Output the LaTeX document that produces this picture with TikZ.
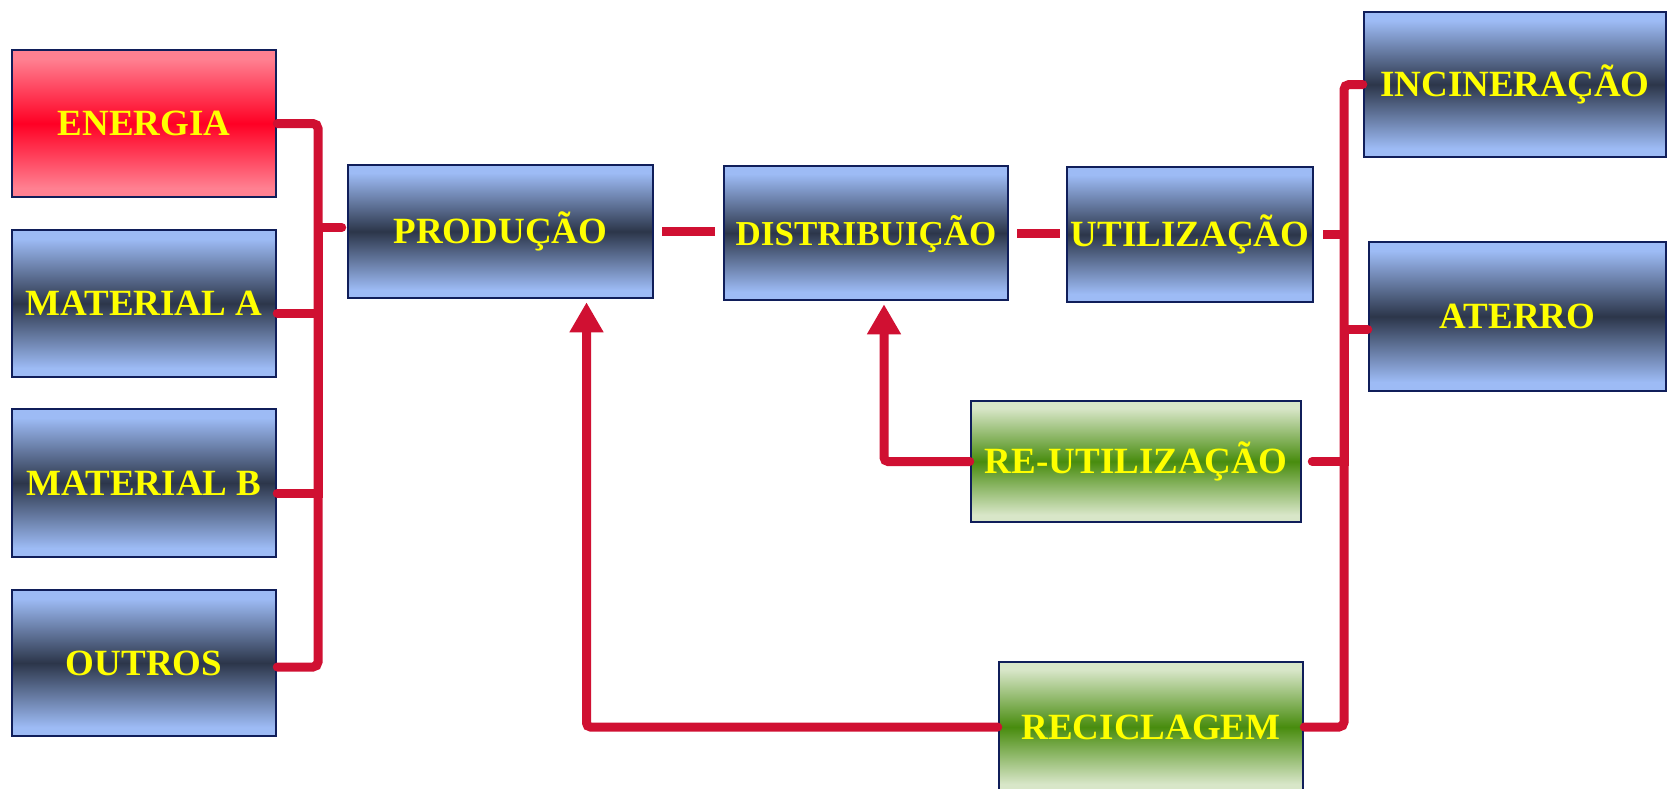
\documentclass[tikz,border=0pt]{standalone}
\usepackage{fontspec}
\setmainfont{Liberation Serif}
\usepackage{xcolor}
\usepackage{tikz}
\usetikzlibrary{arrows.meta,positioning,calc}
\definecolor{boxline}{RGB}{16,30,90}
\definecolor{bluelt}{RGB}{157,187,245}
\definecolor{bluedk}{RGB}{44,54,74}
\definecolor{redlt}{RGB}{255,128,145}
\definecolor{reddk}{RGB}{255,0,36}
\definecolor{greenlt}{RGB}{216,230,200}
\definecolor{greendk}{RGB}{72,140,14}
\definecolor{linkred}{RGB}{208,16,50}
\definecolor{labelyellow}{RGB}{255,255,0}
\pgfdeclareverticalshading{bluegrad}{100bp}{color(0bp)=(bluelt); color(28bp)=(bluelt); color(50bp)=(bluedk); color(72bp)=(bluelt); color(100bp)=(bluelt)}
\pgfdeclareverticalshading{redgrad}{100bp}{color(0bp)=(redlt); color(28bp)=(redlt); color(50bp)=(reddk); color(72bp)=(redlt); color(100bp)=(redlt)}
\pgfdeclareverticalshading{greengrad}{100bp}{color(0bp)=(greenlt); color(28bp)=(greenlt); color(50bp)=(greendk); color(72bp)=(greenlt); color(100bp)=(greenlt)}
\tikzset{
  stage/.style={draw=boxline, line width=2.5pt, inner sep=0pt, text=labelyellow, font=\fontsize{37}{40}\selectfont\bfseries, text height=24.5pt, text depth=0pt},
  bluestage/.style={stage, shade, shading=bluegrad},
  redstage/.style={stage, shade, shading=redgrad},
  greenstage/.style={stage, shade, shading=greengrad},
  link/.style={linkred, line width=9pt, line cap=round},
  gaplink/.style={linkred, line width=9pt, line cap=butt},
  back/.style={linkred, line width=9pt, line cap=round, rounded corners=4pt, -{Triangle[width=32pt,length=30pt]}},
}

\begin{document}
\begin{tikzpicture}[x=1pt, y=-1pt]
\clip (0,0) rectangle (1672,788);
% --- inputs ---
\node[redstage, minimum width=264pt, minimum height=147pt] (energia) at (144,123.5) {ENERGIA};
\node[bluestage, minimum width=264pt, minimum height=147pt] (mata) at (144,303.5) {MATERIAL A};
\node[bluestage, minimum width=264pt, minimum height=148pt] (matb) at (144,483) {MATERIAL B};
\node[bluestage, minimum width=264pt, minimum height=146pt] (outros) at (144,663) {OUTROS};
% --- main chain ---
\node[bluestage, minimum width=305pt, minimum height=133pt] (prod) at (500.5,231.5) {PRODUÇÃO};
\node[bluestage, minimum width=284pt, minimum height=134pt, font=\fontsize{35}{40}\selectfont\bfseries] (dist) at (866,233) {DISTRIBUIÇÃO};
\node[bluestage, minimum width=246pt, minimum height=135pt] (util) at (1190,234.5) {UTILIZAÇÃO};
% --- end of life ---
\node[bluestage, minimum width=302pt, minimum height=145pt] (incin) at (1515,84.5) {INCINERAÇÃO};
\node[bluestage, minimum width=297pt, minimum height=149pt] (aterro) at (1517.5,316.5) {ATERRO};
\node[greenstage, minimum width=330pt, minimum height=121pt] (reutil) at (1136,461.5) {RE-UTILIZAÇÃO};
\node[greenstage, minimum width=304pt, minimum height=130pt] (recicl) at (1151,727) {RECICLAGEM};
% --- left bus ---
\coordinate (lbus) at (318,400);
\draw[link, rounded corners=5pt] (energia.east) -| (lbus) |- ([yshift=-4pt]outros.east);
\draw[link] ([yshift=-9.5pt]mata.east) -| (lbus);
\draw[link] ([yshift=-10pt]matb.east) -| (lbus);
\draw[link, shorten <=5pt] ([yshift=4pt]prod.west) -| (lbus);
% --- chain links ---
\draw[gaplink, shorten <=8pt, shorten >=8pt] (prod.east) -- (prod.east -| dist.west);
\draw[gaplink, shorten <=8pt, shorten >=6pt] (dist.east) -- (dist.east -| util.west);
% --- right bus ---
\coordinate (rbus) at (1344,400);
\draw[gaplink, shorten <=9pt] (util.east) -- (util.east -| rbus);
\draw[link, rounded corners=5pt] (incin.west) -| (rbus) |- (recicl.east);
\draw[link] ([yshift=-13pt]aterro.west) -| (rbus);
\draw[link, shorten <=10pt] (reutil.east) -| (rbus);
% --- return loops ---
\draw[back, shorten >=3pt] (reutil.west) -| ([xshift=18pt]dist.south);
\draw[back, shorten >=3pt] (recicl.west) -| ([xshift=86pt]prod.south);
\end{tikzpicture}
\end{document}
